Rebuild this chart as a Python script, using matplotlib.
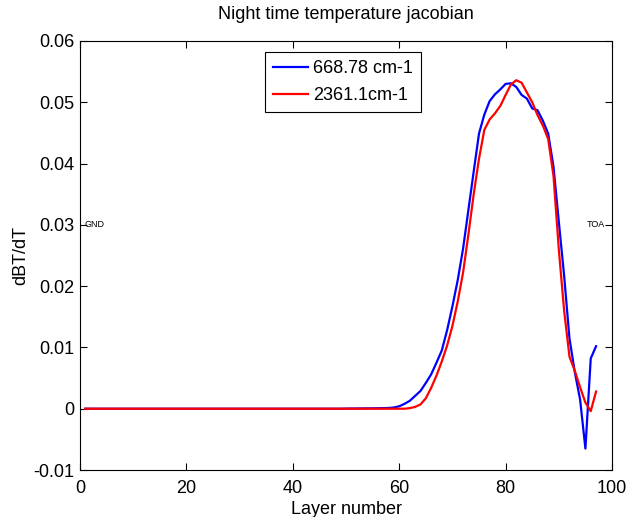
import numpy as np
import matplotlib
matplotlib.use('Agg')
import matplotlib.pyplot as plt

plt.rcParams['font.family'] = ['Liberation Sans', 'DejaVu Sans']

# 层号 1..97
layers = list(range(1, 98))

# 668.78 cm-1 (蓝)
blue = [0.0] * 49 + [
    0.00002, 0.00003, 0.00004, 0.00005, 0.00006, 0.00007, 0.00008, 0.0001, 0.00012,   # 50-58
    0.0002, 0.0004, 0.0008, 0.0013, 0.0021, 0.0029, 0.0042, 0.0056, 0.0075, 0.0095,  # 59-68
    0.0128, 0.0167, 0.0210, 0.0261, 0.0324, 0.0387, 0.0449, 0.0480, 0.0502, 0.0513,  # 69-78
    0.0521, 0.0530, 0.0531, 0.0525, 0.0512, 0.0506, 0.0490, 0.0487, 0.0470, 0.0449,  # 79-88
    0.0395, 0.0305, 0.0217, 0.0115, 0.0060, 0.0015, -0.0065, 0.0082, 0.0102          # 89-97
]

# 2361.1 cm-1 (红)
red = [0.0] * 61 + [
    0.0001, 0.0003, 0.0007, 0.0017, 0.0034, 0.0054, 0.0077, 0.0103,                  # 62-69
    0.0135, 0.0175, 0.0222, 0.0284, 0.0350, 0.0408, 0.0455, 0.0472, 0.0482, 0.0494,  # 70-79
    0.0512, 0.0529, 0.0536, 0.0532, 0.0516, 0.0500, 0.0479, 0.0462, 0.0440, 0.0380,  # 80-89
    0.0260, 0.0160, 0.0085, 0.0062, 0.0035, 0.0010, -0.0004, 0.0028                  # 90-97
]

xticks = [0, 20, 40, 60, 80, 100]
yticks = [-0.01, 0, 0.01, 0.02, 0.03, 0.04, 0.05, 0.06]
ylabels = ['-0.01', '0', '0.01', '0.02', '0.03', '0.04', '0.05', '0.06']

fig = plt.figure(figsize=(6.29, 5.17), dpi=100)
ax = fig.add_axes([0.1272, 0.0909, 0.8458, 0.8298])

ax.plot(layers, blue, color='#0000ff', lw=1.6, label='668.78 cm-1')
ax.plot(layers, red, color='#ff0000', lw=1.6, label='2361.1cm-1')

ax.set_xlim(0, 100)
ax.set_ylim(-0.01, 0.06)
ax.set_xticks(xticks)
ax.set_xticklabels([str(t) for t in xticks])
ax.set_yticks(yticks)
ax.set_yticklabels(ylabels)
ax.tick_params(direction='in', length=5, width=0.8, labelsize=13,
               top=True, right=True)
ax.tick_params(axis='x', pad=7)
ax.tick_params(axis='y', pad=4)
for s in ax.spines.values():
    s.set_linewidth(0.8)

ax.set_title('Night time temperature jacobian', fontsize=13, pad=16)
ax.set_xlabel('Layer number', fontsize=13, labelpad=3)
ax.set_ylabel('dBT/dT', fontsize=13, labelpad=3)

ax.text(0.9, 0.03, 'GND', fontsize=6.5, va='center', ha='left')
ax.text(98.6, 0.03, 'TOA', fontsize=6.5, va='center', ha='right')

leg = ax.legend(loc='upper left', bbox_to_anchor=(0.348, 0.974), fontsize=13,
                frameon=True, fancybox=False, framealpha=1, edgecolor='black',
                handlelength=1.95, handletextpad=0.25, borderpad=0.45,
                labelspacing=0.55, borderaxespad=0)
leg.get_frame().set_linewidth(0.8)

fig.savefig('out.png', dpi=100)
